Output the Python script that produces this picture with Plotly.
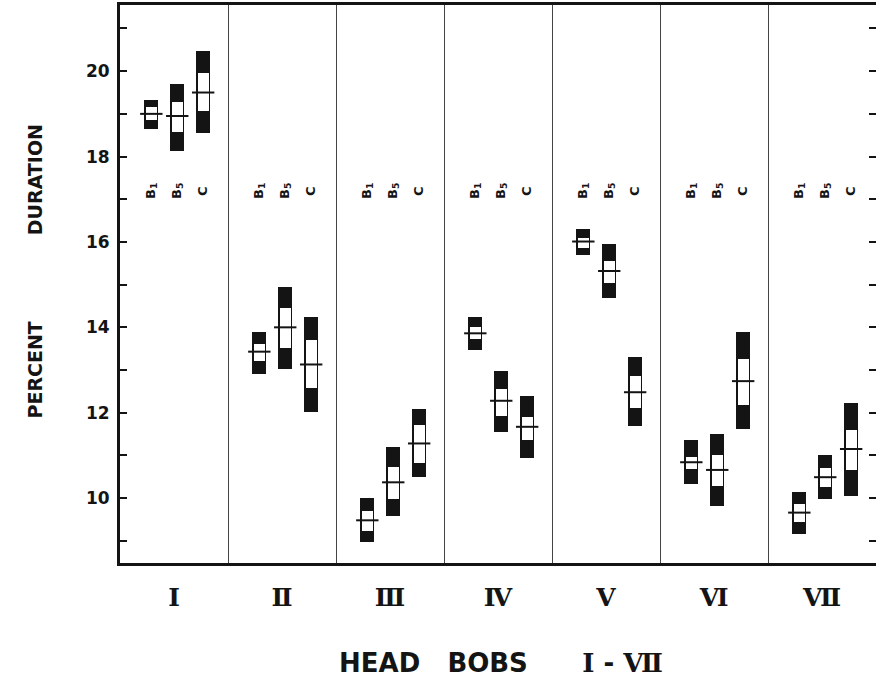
import plotly.graph_objects as go

# Head bob phases I-VII; three recording conditions per phase
phases = ["Ⅰ", "Ⅱ", "Ⅲ", "Ⅳ", "Ⅴ", "Ⅵ", "Ⅶ"]
conditions = ["B<sub>1</sub>", "B<sub>5</sub>", "C"]

# percent duration: mean, inner band (white) and outer band (black)
b1_mean = [19.00, 13.43, 9.48, 13.86, 16.01, 10.84, 9.66]
b1_inner_lo = [18.86, 13.22, 9.23, 13.72, 15.87, 10.68, 9.45]
b1_inner_hi = [19.15, 13.60, 9.70, 14.01, 16.10, 10.97, 9.86]
b1_outer_lo = [18.64, 12.90, 8.97, 13.48, 15.69, 10.34, 9.17]
b1_outer_hi = [19.33, 13.90, 10.01, 14.25, 16.30, 11.36, 10.15]

b5_mean = [18.95, 14.00, 10.37, 12.28, 15.32, 10.66, 10.49]
b5_inner_lo = [18.58, 13.51, 9.98, 11.93, 15.04, 10.29, 10.26]
b5_inner_hi = [19.28, 14.46, 10.72, 12.55, 15.56, 11.01, 10.70]
b5_outer_lo = [18.13, 13.03, 9.58, 11.55, 14.68, 9.82, 9.99]
b5_outer_hi = [19.70, 14.95, 11.19, 12.98, 15.95, 11.50, 11.01]

c_mean = [19.50, 13.13, 11.28, 11.67, 12.48, 12.74, 11.15]
c_inner_lo = [19.06, 12.58, 10.83, 11.37, 12.10, 12.19, 10.66]
c_inner_hi = [19.96, 13.70, 11.71, 11.90, 12.86, 13.26, 11.59]
c_outer_lo = [18.56, 12.02, 10.50, 10.95, 11.69, 11.61, 10.05]
c_outer_hi = [20.48, 14.25, 12.08, 12.39, 13.30, 13.89, 12.23]

y_ticks = list(range(9, 22))
y_tick_text = [str(v) if v % 2 == 0 and 10 <= v <= 20 else "" for v in y_ticks]

series = [
    (0.29, b1_mean, b1_inner_lo, b1_inner_hi, b1_outer_lo, b1_outer_hi),
    (0.53, b5_mean, b5_inner_lo, b5_inner_hi, b5_outer_lo, b5_outer_hi),
    (0.77, c_mean, c_inner_lo, c_inner_hi, c_outer_lo, c_outer_hi),
]

INK = "#141414"
NUMERAL_FONT = "DejaVu Serif"
fig = go.Figure()

for offset, mean, ilo, ihi, olo, ohi in series:
    xs = [i + offset for i in range(len(phases))]
    fig.add_trace(go.Bar(
        x=xs, base=olo, y=[h - l for l, h in zip(olo, ohi)], width=0.13,
        marker=dict(color=INK, line=dict(width=0)), showlegend=False, hoverinfo="skip"))
    fig.add_trace(go.Bar(
        x=xs, base=ilo, y=[h - l for l, h in zip(ilo, ihi)], width=0.10,
        marker=dict(color="white", line=dict(width=0)), showlegend=False, hoverinfo="skip"))

for offset, mean, *_ in series:
    xs = [i + offset for i in range(len(phases))]
    fig.add_trace(go.Scatter(
        x=xs, y=mean, mode="markers", showlegend=False,
        marker=dict(symbol="line-ew", size=16, color=INK, line=dict(width=2, color=INK))))

# invisible trace to carry the right-hand tick axis
fig.add_trace(go.Scatter(x=[0], y=[15], yaxis="y2", mode="markers",
                         marker=dict(opacity=0), showlegend=False, hoverinfo="skip"))

annotations = []
for i in range(len(phases)):
    for (offset, *_), name in zip(series, conditions):
        annotations.append(dict(
            x=i + offset, y=17.2, text=name, textangle=-90, showarrow=False,
            font=dict(family="DejaVu Sans", size=13, color=INK, weight="bold"),
            xanchor="center", yanchor="middle"))

annotations.append(dict(
    xref="paper", yref="paper", x=-0.112, y=0.523, textangle=-90, showarrow=False,
    text="PERCENT" + " " * 13 + "DURATION",
    font=dict(family="DejaVu Sans", size=19, color=INK, weight="bold"),
    xanchor="center", yanchor="middle"))
annotations.append(dict(
    xref="paper", yref="paper", x=0.504, y=-0.179, showarrow=False,
    text="HEAD   BOBS      " + f'<span style="font-family:{NUMERAL_FONT}">Ⅰ</span>'
         + " - " + f'<span style="font-family:{NUMERAL_FONT}">Ⅶ</span>',
    font=dict(family="DejaVu Sans", size=26, color=INK, weight="bold"),
    xanchor="center", yanchor="middle"))

fig.update_layout(
    width=877, height=684,
    margin=dict(l=120, r=1, t=5, b=121),
    paper_bgcolor="white", plot_bgcolor="white",
    barmode="overlay", bargap=0,
    annotations=annotations,
    xaxis=dict(
        range=[0, 7], tickvals=[i + 0.5 for i in range(7)], ticktext=phases,
        ticks="", showgrid=False, zeroline=False,
        showline=True, linewidth=3, linecolor=INK, mirror=True,
        tickfont=dict(family=NUMERAL_FONT, size=25, color=INK, weight="bold"),
        ticklabelstandoff=10,
        minor=dict(tickvals=list(range(1, 7)), showgrid=True, gridcolor="#444444",
                   gridwidth=1, ticks=""),
    ),
    yaxis=dict(
        range=[8.48, 21.55], tickvals=y_ticks, ticktext=y_tick_text,
        ticks="inside", ticklen=7, tickwidth=2, tickcolor=INK,
        showgrid=False, zeroline=False,
        showline=True, linewidth=3, linecolor=INK,
        tickfont=dict(family="DejaVu Sans", size=17, color=INK, weight="bold"),
        ticklabelstandoff=4,
    ),
    yaxis2=dict(
        overlaying="y", side="right", matches="y", range=[8.48, 21.55],
        tickvals=y_ticks, showticklabels=False,
        ticks="inside", ticklen=7, tickwidth=2, tickcolor=INK,
        showgrid=False, zeroline=False, showline=False,
    ),
)

fig.write_html("out.html")
